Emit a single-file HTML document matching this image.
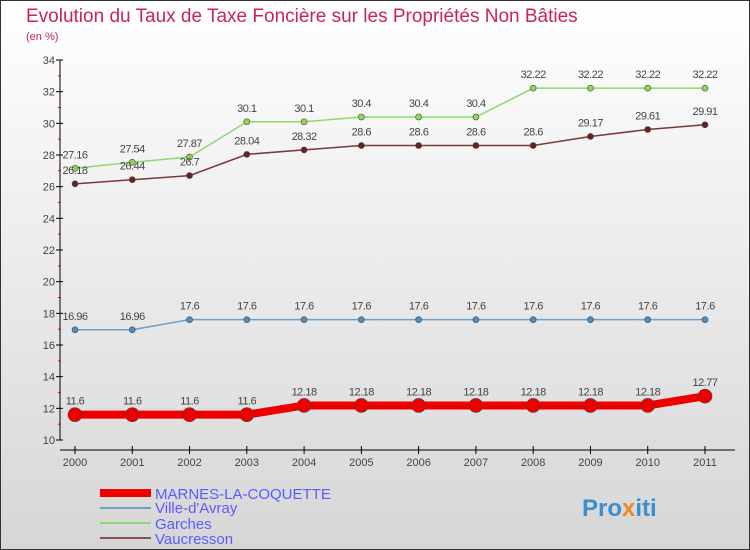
<!DOCTYPE html>
<html><head><meta charset="utf-8"><style>
body{margin:0;width:750px;height:550px;overflow:hidden}
svg{display:block;font-family:"Liberation Sans",sans-serif}
</style></head><body>
<svg id="c" width="750" height="550">
<defs><linearGradient id="bg" x1="0" y1="0" x2="0" y2="1"><stop offset="0" stop-color="#ffffff"/><stop offset="1" stop-color="#d6d6d6"/></linearGradient></defs>
<rect x="0.5" y="0.5" width="749" height="549" fill="url(#bg)" stroke="#333"/>
<text x="26" y="22" font-size="19" fill="#c8245a">Evolution du Taux de Taxe Foncière sur les Propriétés Non Bâties</text>
<text x="26" y="40" font-size="11" fill="#c8245a">(en %)</text>
<g id="axes"></g><g id="series"></g>
<g>
<rect x="100" y="489" width="51" height="8" fill="#e00"/>
<text x="155" y="499" font-size="15" fill="#5b5bff">MARNES-LA-COQUETTE</text>
<rect x="100" y="507" width="51" height="2" fill="#6fa0c8"/>
<text x="155" y="513" font-size="15" fill="#5b5bff">Ville-d'Avray</text>
<rect x="100" y="522" width="51" height="2" fill="#8fd870"/>
<text x="155" y="529" font-size="15" fill="#5b5bff">Garches</text>
<rect x="100" y="537" width="51" height="2" fill="#8a5050"/>
<text x="155" y="544" font-size="15" fill="#5b5bff">Vaucresson</text>
</g>
<text x="582" y="516" font-size="24" font-weight="bold" fill="#3a8fd0">Pro<tspan fill="#f08a20">x</tspan>iti</text>
</svg>
<script>
const years=["2000","2001","2002","2003","2004","2005","2006","2007","2008","2009","2010","2011"];
const yTicks=[10,12,14,16,18,20,22,24,26,28,30,32,34];
const marnes=[11.6,11.6,11.6,11.6,12.18,12.18,12.18,12.18,12.18,12.18,12.18,12.77];
const villeDavray=[16.96,16.96,17.6,17.6,17.6,17.6,17.6,17.6,17.6,17.6,17.6,17.6];
const garches=[27.16,27.54,27.87,30.1,30.1,30.4,30.4,30.4,32.22,32.22,32.22,32.22];
const vaucresson=[26.18,26.44,26.7,28.04,28.32,28.6,28.6,28.6,28.6,29.17,29.61,29.91];
const NS="http://www.w3.org/2000/svg";
const X=i=>75+i*(705-75)/11;
const Y=v=>440-(v-10)*(380/24);
function mk(t,a,p){const e=document.createElementNS(NS,t);for(const k in a)e.setAttribute(k,a[k]);p.appendChild(e);return e;}
const ax=document.getElementById('axes');
const yl=mk('line',{x1:60,y1:Y(34),x2:60,y2:Y(10),stroke:'#000'},ax);


const xl=mk('line',{x1:60,y1:450,x2:735,y2:450,stroke:'#000'},ax);


yTicks.forEach(v=>{
 mk('line',{x1:56,y1:Y(v),x2:63,y2:Y(v),stroke:'#000'},ax);
 if(v<34) mk('line',{x1:58,y1:Y(v+1),x2:61,y2:Y(v+1),stroke:'#e00'},ax);
 const t=mk('text',{x:55,y:Y(v)+4,'font-size':11,'text-anchor':'end',fill:'#444'},ax);t.textContent=v;
 
 
});
years.forEach((y,i)=>{
 mk('line',{x1:X(i),y1:446,x2:X(i),y2:454,stroke:'#000'},ax);
 const t=mk('text',{x:X(i),y:466,'font-size':11,'text-anchor':'middle',fill:'#444'},ax);t.textContent=y;
 
 
});
const sg=document.getElementById('series');
function series(data,color,w,r,name,fill){
 const g=mk('g',{},sg);
 
 
 mk('polyline',{points:data.map((v,i)=>X(i)+','+Y(v)).join(' '),fill:'none',stroke:color,'stroke-width':w},g);
 data.forEach((v,i)=>{
  const c=mk('circle',{cx:X(i),cy:Y(v),r:r,fill:fill,stroke:'#444','stroke-width':0.6},g);
  
  
  const t=mk('text',{x:X(i),y:Y(v)-10,'font-size':11,'text-anchor':'middle',fill:'#444','letter-spacing':'-0.5'},g);t.textContent=v;
  
  
 });
}
series(villeDavray,'#6fa0c8',1.5,3,'series-ville-davray','#4a8fc8');
series(garches,'#8fd870',1.5,3,'series-garches','#8fd850');
series(vaucresson,'#7a3838',1.5,3,'series-vaucresson','#6a2020');
series(marnes,'#e00',8,7,'series-marnes','#e00');
</script>
</body></html>
